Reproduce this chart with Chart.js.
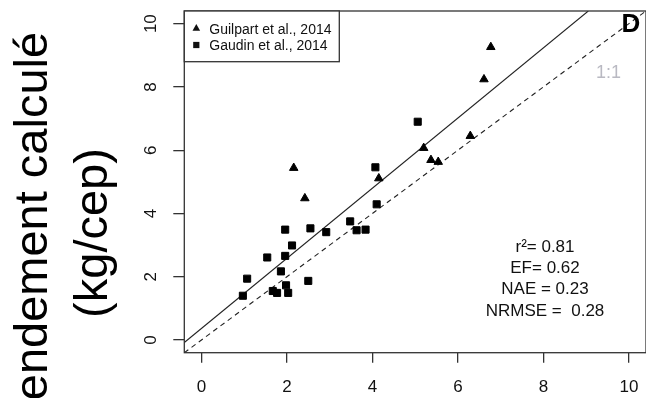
<!DOCTYPE html>
<html>
<head>
<meta charset="utf-8">
<script src="https://cdn.jsdelivr.net/npm/chart.js@4/dist/chart.umd.min.js"></script>
<style>
  html, body { margin: 0; padding: 0; background: #fff; overflow: hidden; }
  #wrap { width: 652px; height: 398px; }
</style>
</head>
<body>
<div id="wrap"><canvas id="c" width="652" height="398"></canvas></div>
<script>
// observed (x) vs calculated (y) yield, kg/cep
const guilpartObs = [2.16, 2.42, 4.15, 5.20, 5.37, 5.54, 6.29, 6.61, 6.77];
const guilpartSim = [5.44, 4.48, 5.11, 6.07, 5.69, 5.63, 6.45, 8.24, 9.26];
const gaudinObs = [0.97, 1.07, 1.54, 1.67, 1.77, 1.86, 1.96, 1.96, 1.98, 2.03, 2.12, 2.50, 2.55, 2.92, 3.48, 3.63, 3.84, 4.07, 4.10, 5.06];
const gaudinSim = [1.40, 1.94, 2.61, 1.55, 1.49, 2.17, 3.49, 2.66, 1.73, 1.49, 2.99, 1.87, 3.53, 3.41, 3.75, 3.47, 3.49, 5.46, 4.29, 6.90];

// regression line and 1:1 line, end points
const fitX = [-0.4, 9.05];
const fitY = [-0.08, 10.4];
const oneX = [-0.4, 10.4];
const oneY = [-0.4, 10.4];

const xTicks = [0, 2, 4, 6, 8, 10];
const yTicks = [0, 2, 4, 6, 8, 10];

const seriesLabels = ['Guilpart et al., 2014', 'Gaudin et al., 2014'];
const statLines = ['r\u00b2= 0.81', 'EF= 0.62', 'NAE = 0.23', 'NRMSE =  0.28'];
const yTitle = ['Rendement calcul\u00e9', '(kg/cep)'];
const panelTag = 'D';
const oneLabel = '1:1';

const FONT = "'Liberation Sans', Arial, sans-serif";
const INK = '#333';

const pts = (xs, ys) => xs.map((x, i) => ({ x, y: ys[i] }));

function marker(ctx, style, x, y, r) {
  ctx.beginPath();
  if (style === 'triangle') {
    ctx.moveTo(x, y - r);
    ctx.lineTo(x + r * 0.866, y + r / 2);
    ctx.lineTo(x - r * 0.866, y + r / 2);
    ctx.closePath();
  } else {
    const h = r * Math.SQRT1_2;
    ctx.rect(x - h, y - h, 2 * h, 2 * h);
  }
  ctx.fill();
}

const extras = {
  id: 'extras',
  afterDraw(chart) {
    const { ctx, chartArea: a } = chart;
    ctx.save();
    // plot box
    ctx.strokeStyle = INK;
    ctx.lineWidth = 1.3;
    ctx.strokeRect(a.left, a.top, a.right - a.left, a.bottom - a.top);

    // legend box, top-left corner of the plot
    ctx.fillStyle = '#fff';
    ctx.fillRect(a.left, a.top, 155, 50.7);
    ctx.strokeRect(a.left, a.top, 155, 50.7);
    ctx.fillStyle = '#111';
    ctx.font = '14px ' + FONT;
    ctx.textBaseline = 'middle';
    ctx.textAlign = 'left';
    chart.data.datasets.filter(d => d.inLegend).forEach((d, i) => {
      const y = a.top + 17.5 + i * 16.5;
      marker(ctx, d.pointStyle, a.left + 12, y, 4.4);
      ctx.fillText(d.label, a.left + 25, y + 1.5);
    });

    // stats
    ctx.textAlign = 'center';
    ctx.font = '17px ' + FONT;
    statLines.forEach((s, i) => ctx.fillText(s, 545, 247 + i * 21.4));

    // panel tag and 1:1 label
    ctx.font = 'bold 26px ' + FONT;
    ctx.fillStyle = '#000';
    ctx.fillText(panelTag, 631, 25);
    ctx.font = '18px ' + FONT;
    ctx.fillStyle = '#b9b9c2';
    ctx.fillText(oneLabel, 608.5, 73);

    // y axis title, rotated
    ctx.fillStyle = '#000';
    ctx.font = '47px ' + FONT;
    ctx.textBaseline = 'alphabetic';
    yTitle.forEach((t, i) => {
      ctx.save();
      ctx.translate(47 + i * 60, 233);
      ctx.rotate(-Math.PI / 2);
      ctx.fillText(t, 0, 0);
      ctx.restore();
    });
    ctx.restore();
  }
};

new Chart(document.getElementById('c'), {
  type: 'scatter',
  data: {
    datasets: [
      {
        label: seriesLabels[0], inLegend: true,
        data: pts(guilpartObs, guilpartSim),
        pointStyle: 'triangle', pointRadius: 4.9, pointBorderWidth: 1,
        backgroundColor: '#000', borderColor: '#000'
      },
      {
        label: seriesLabels[1], inLegend: true,
        data: pts(gaudinObs, gaudinSim),
        pointStyle: 'rect', pointRadius: 5, pointBorderWidth: 1,
        backgroundColor: '#000', borderColor: '#000'
      },
      {
        label: 'fit', data: pts(fitX, fitY), showLine: true,
        pointRadius: 0, borderColor: '#222', borderWidth: 1.1
      },
      {
        label: '1:1', data: pts(oneX, oneY), showLine: true,
        pointRadius: 0, borderColor: '#222', borderWidth: 1.1, borderDash: [5, 4]
      }
    ]
  },
  options: {
    responsive: false,
    animation: false,
    layout: { padding: { top: 11, right: 3, left: 0, bottom: 0 } },
    plugins: { legend: { display: false }, tooltip: { enabled: false } },
    scales: {
      x: {
        type: 'linear', min: -0.4, max: 10.4,
        afterBuildTicks: s => { s.ticks = xTicks.map(v => ({ value: v })); },
        afterFit: s => { s.height = 45.3; s.paddingLeft = 0; s.paddingRight = 0; },
        grid: { drawOnChartArea: false, drawTicks: true, tickLength: 10, color: INK, lineWidth: 1.3 },
        border: { display: false },
        ticks: { font: { family: FONT, size: 17 }, color: '#111', padding: 14, maxRotation: 0, autoSkip: false }
      },
      y: {
        type: 'linear', min: -0.4, max: 10.4,
        afterBuildTicks: s => { s.ticks = yTicks.map(v => ({ value: v })); },
        afterFit: s => { s.width = 184.3; s.paddingTop = 0; s.paddingBottom = 0; },
        grid: { drawOnChartArea: false, drawTicks: true, tickLength: 11, color: INK, lineWidth: 1.3 },
        border: { display: false },
        ticks: { font: { family: FONT, size: 17 }, color: '#111', padding: 13, minRotation: 90, maxRotation: 90, crossAlign: 'center', autoSkip: false }
      }
    }
  },
  plugins: [extras]
});
</script>
</body>
</html>
